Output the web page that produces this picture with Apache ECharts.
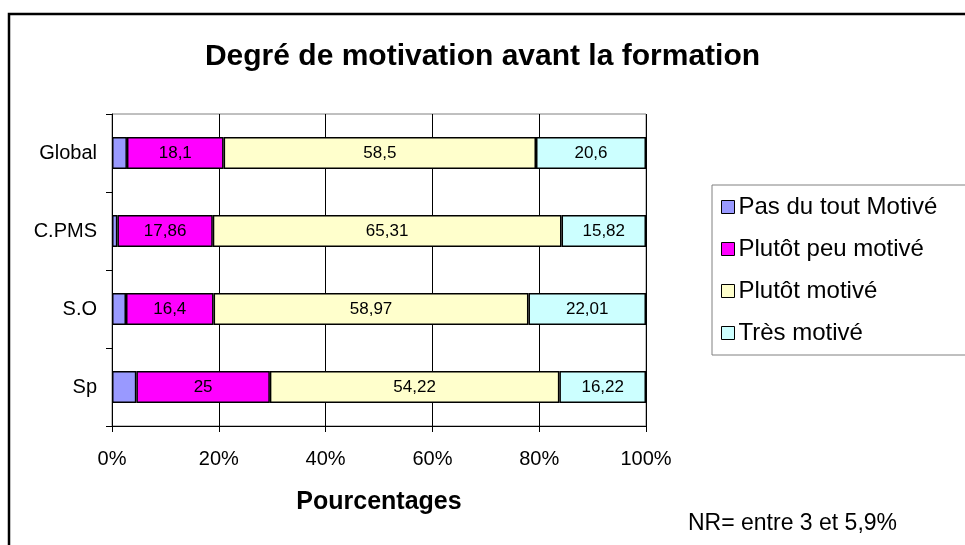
<!DOCTYPE html>
<html>
<head>
<meta charset="utf-8">
<script src="https://cdn.jsdelivr.net/npm/echarts@6/dist/echarts.min.js"></script>
<style>
    html, body { margin: 0; padding: 0; background: #ffffff; }
    #chart { width: 965px; height: 545px; }
</style>
</head>
<body>
<div id="chart"></div>
<script>
// données (en %)
var categories = ['Global', 'C.PMS', 'S.O', 'Sp'];
var pasDuTout = [2.8, 1.01, 2.62, 4.56];
var plutotPeu = [18.1, 17.86, 16.4, 25];
var plutotMotive = [58.5, 65.31, 58.97, 54.22];
var tresMotive = [20.6, 15.82, 22.01, 16.22];
var xTicks = [0, 20, 40, 60, 80, 100];

var FONT = 'Liberation Sans, Arial, sans-serif';

(function () {
    var myChart = echarts.init(document.getElementById('chart'));

    // étiquette avec virgule décimale
    function labelFmt(p) {
        return String(p.value).replace('.', ',');
    }

    function makeSeries(name, data, color, showLabel) {
        return {
            name: name,
            type: 'bar',
            stack: 'total',
            barWidth: 32,
            data: data,
            itemStyle: {
                color: color,
                borderColor: '#000000',
                borderWidth: 1.5
            },
            label: {
                show: showLabel,
                position: 'inside',
                color: '#000000',
                fontFamily: FONT,
                fontSize: 17,
                formatter: labelFmt
            }
        };
    }

    var option = {
        backgroundColor: '#ffffff',
        animation: false,
        title: {
            text: 'Degré de motivation avant la formation',
            left: 'center',
            top: 37,
            textStyle: {
                color: '#000000',
                fontFamily: FONT,
                fontWeight: 'bold',
                fontSize: 30
            }
        },
        legend: {
            orient: 'vertical',
            left: 712,
            top: 185,
            padding: [10, 60, 10, 9],
            itemGap: 18,
            itemWidth: 13,
            itemHeight: 13,
            borderColor: '#808080',
            borderWidth: 1,
            icon: 'rect',
            itemStyle: { borderColor: '#000000', borderWidth: 1 },
            textStyle: {
                color: '#000000',
                fontFamily: FONT,
                fontSize: 24,
                lineHeight: 24,
                padding: [0, 0, 0, -1]
            },
            data: ['Pas du tout Motivé', 'Plutôt peu motivé', 'Plutôt motivé', 'Très motivé']
        },
        grid: {
            left: 112,
            right: 319,
            top: 114,
            bottom: 119,
            show: true,
            borderColor: '#808080',
            borderWidth: 1
        },
        xAxis: {
            type: 'value',
            min: xTicks[0],
            max: xTicks[xTicks.length - 1],
            interval: 20,
            axisLine: { show: true, lineStyle: { color: '#000000', width: 1 } },
            axisTick: { show: true, length: 6, lineStyle: { color: '#000000' } },
            axisLabel: {
                color: '#000000',
                fontFamily: FONT,
                fontSize: 20,
                margin: 23,
                formatter: '{value}%'
            },
            splitLine: { show: true, lineStyle: { color: '#000000', width: 1 } }
        },
        yAxis: {
            type: 'category',
            inverse: true,
            data: categories,
            axisLine: { show: true, lineStyle: { color: '#000000', width: 1 } },
            axisTick: { show: true, length: 6, lineStyle: { color: '#000000' } },
            axisLabel: {
                color: '#000000',
                fontFamily: FONT,
                fontSize: 20,
                margin: 15
            }
        },
        graphic: [
            {
                type: 'rect',
                shape: { x: 9, y: 14, width: 1000, height: 600 },
                style: { fill: 'none', stroke: '#000000', lineWidth: 2.5 }
            },
            {
                type: 'text',
                x: 379,
                y: 502,
                style: {
                    text: 'Pourcentages',
                    fill: '#000000',
                    font: 'bold 25px ' + FONT,
                    align: 'center',
                    verticalAlign: 'middle'
                }
            },
            {
                type: 'text',
                x: 688,
                y: 524,
                style: {
                    text: 'NR= entre 3 et 5,9%',
                    fill: '#000000',
                    font: '23px ' + FONT,
                    align: 'left',
                    verticalAlign: 'middle'
                }
            }
        ],
        series: [
            makeSeries('Pas du tout Motivé', pasDuTout, '#9999FF', false),
            makeSeries('Plutôt peu motivé', plutotPeu, '#FF00FF', true),
            makeSeries('Plutôt motivé', plutotMotive, '#FFFFCC', true),
            makeSeries('Très motivé', tresMotive, '#CCFFFF', true)
        ]
    };

    myChart.setOption(option);

    window.addEventListener('resize', function () {
        myChart.resize();
    });
})();
</script>
</body>
</html>
